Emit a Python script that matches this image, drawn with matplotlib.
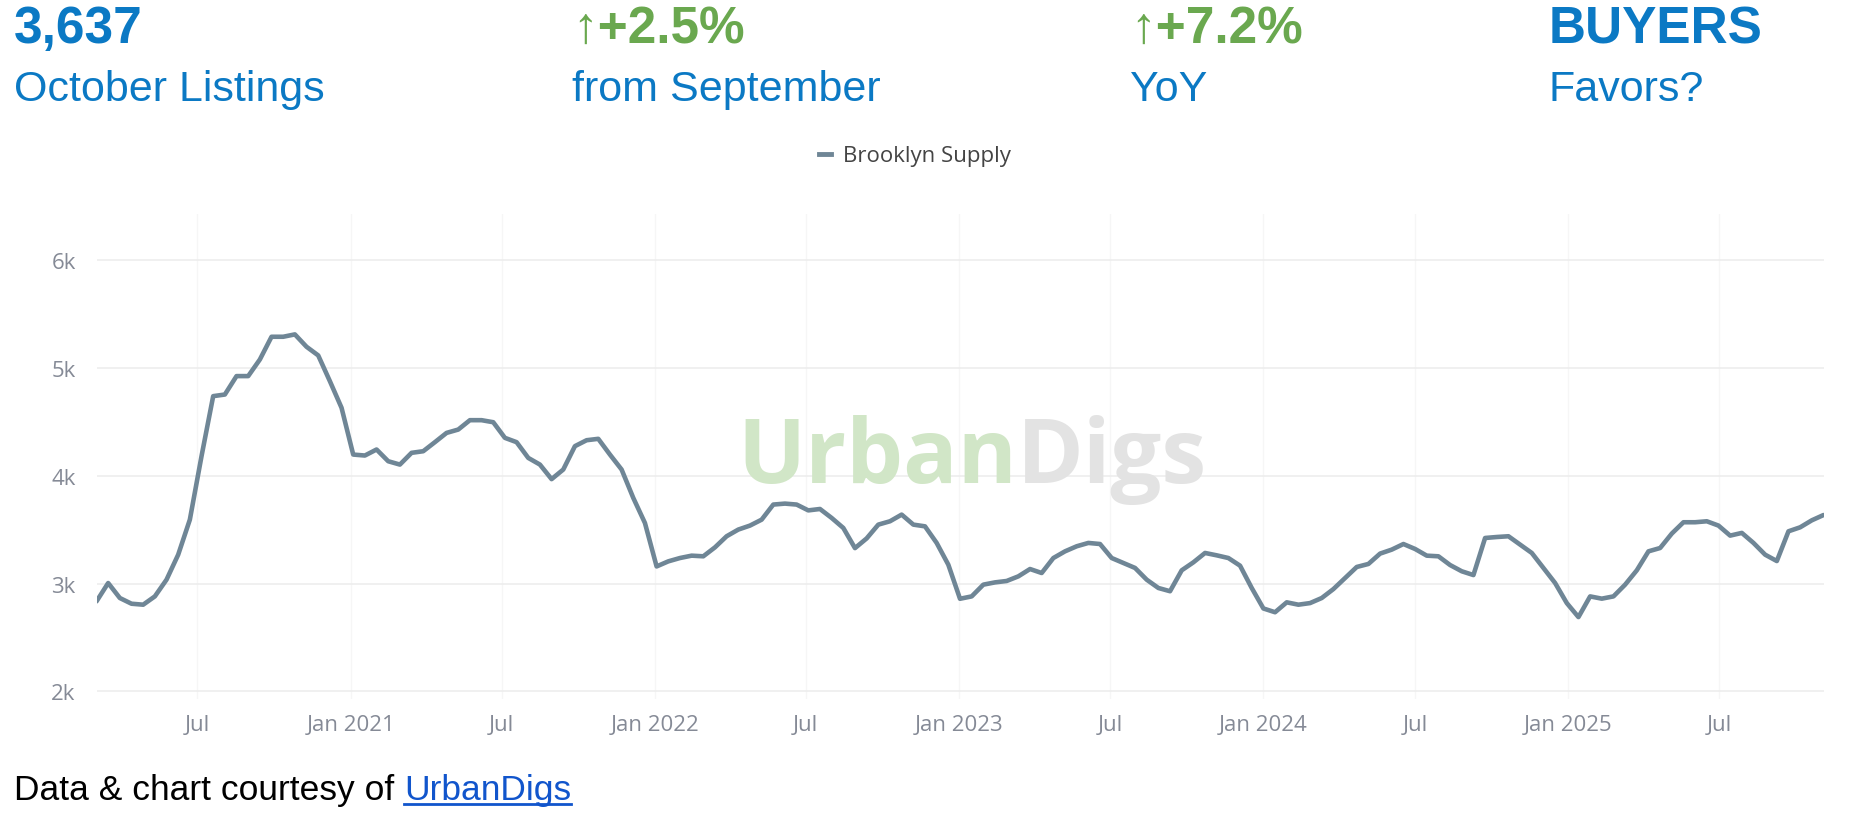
import matplotlib
matplotlib.use("Agg")
import matplotlib.pyplot as plt
from matplotlib.ticker import FuncFormatter
from matplotlib.lines import Line2D
import pandas as pd

# ---------------- data ----------------
start_date = "2020-03-02"
step = "14D"
supply = [
    2836, 3006, 2867, 2814, 2805, 2882, 3037, 3269, 3594, 4183,
    4740, 4755, 4926, 4926, 5080, 5291, 5291, 5313, 5198, 5118,
    4879, 4632, 4198, 4189, 4245, 4136, 4105, 4214, 4229, 4313,
    4399, 4430, 4517, 4517, 4498, 4353, 4313, 4167, 4105, 3970,
    4059, 4276, 4331, 4344, 4198, 4059, 3796, 3563, 3160, 3207,
    3238, 3260, 3254, 3337, 3440, 3502, 3539, 3594, 3734, 3743,
    3734, 3680, 3693, 3610, 3517, 3330, 3420, 3548, 3579, 3641,
    3548, 3532, 3378, 3176, 2860, 2882, 2991, 3012, 3025, 3068,
    3136, 3099, 3238, 3300, 3347, 3378, 3368, 3238, 3192, 3146,
    3037, 2960, 2930, 3124, 3198, 3285, 3263, 3238, 3167, 2960,
    2770, 2735, 2827, 2805, 2820, 2867, 2950, 3053, 3155, 3183,
    3279, 3316, 3368, 3322, 3260, 3254, 3173, 3115, 3080, 3424,
    3433, 3440, 3362, 3285, 3146, 3006, 2820, 2690, 2882, 2861,
    2882, 2991, 3124, 3300, 3331, 3465, 3570, 3570, 3579, 3539,
    3446, 3471, 3378, 3269, 3210, 3486, 3523, 3588, 3637,
]
dates = pd.date_range(start_date, periods=len(supply), freq=step)
series_name = "Brooklyn Supply"

y_ticks = [2000, 3000, 4000, 5000, 6000]
x_tick_dates = pd.to_datetime([
    "2020-07-01", "2021-01-01", "2021-07-01", "2022-01-01", "2022-07-01",
    "2023-01-01", "2023-07-01", "2024-01-01", "2024-07-01", "2025-01-01",
    "2025-07-01",
])
x_tick_labels = ["Jul", "Jan 2021", "Jul", "Jan 2022", "Jul", "Jan 2023",
                 "Jul", "Jan 2024", "Jul", "Jan 2025", "Jul"]

headline_values = ["3,637", "\u2191+2.5%", "\u2191+7.2%", "BUYERS"]
headline_labels = ["October Listings", "from September", "YoY", "Favors?"]
headline_value_colors = ["#0b79c4", "#6aa84f", "#6aa84f", "#0b79c4"]
headline_x = [14, 572, 1130, 1549]   # pixel positions

# ---------------- figure ----------------
W, H = 1850, 828
fig = plt.figure(figsize=(W / 100, H / 100), dpi=100)
fig.patch.set_facecolor("white")

ax_left, ax_right = 96.5, 1823.5
ax_top, ax_bottom = 215, 700
ax = fig.add_axes([ax_left / W, 1 - ax_bottom / H,
                   (ax_right - ax_left) / W, (ax_bottom - ax_top) / H])
ax.set_facecolor("white")

line_color = "#6f8696"
ax.plot(dates, supply, color=line_color, lw=3.3, solid_joinstyle="round",
        solid_capstyle="round", zorder=3, label=series_name)

ax.set_xlim(dates[0], dates[-1])
ax.set_ylim(1930, 6430)
ax.set_yticks(y_ticks)
ax.yaxis.set_major_formatter(FuncFormatter(lambda v, p: f"{int(v/1000)}k"))
ax.set_xticks(x_tick_dates)
ax.set_xticklabels(x_tick_labels)

for s in ax.spines.values():
    s.set_visible(False)
ax.tick_params(axis="both", length=0, labelsize=16, labelcolor="#858a96")
ax.tick_params(axis="y", pad=15)
ax.tick_params(axis="x", pad=11)
for lab in ax.get_xticklabels() + ax.get_yticklabels():
    lab.set_family(["Open Sans", "DejaVu Sans"])

ax.grid(axis="y", color="#ececec", lw=1.1, zorder=0)
ax.grid(axis="x", color="#f6f6f6", lw=1.0, zorder=0)
ax.set_axisbelow(True)

# watermark
wm1 = ax.text(0.533, 0.447, "Urban", transform=ax.transAxes, ha="right",
              va="baseline", fontsize=65, fontweight="bold",
              family=["Open Sans", "DejaVu Sans"], color="#d1e6c7", zorder=1)
ax.annotate("Digs", xy=(1, 0), xycoords=wm1, ha="left", va="bottom",
            fontsize=65, fontweight="bold", family=["Open Sans", "DejaVu Sans"],
            color="#e3e3e3", zorder=1)

# legend
fig.legend(handles=[Line2D([0], [0], color=line_color, lw=3.5)],
           labels=[series_name], loc="center",
           bbox_to_anchor=(915 / W, 1 - 157 / H), frameon=False,
           handlelength=0.55, handletextpad=0.55,
           prop={"family": ["Open Sans", "DejaVu Sans"], "size": 16},
           labelcolor="#444444")

# headline
hfam = ["Liberation Sans", "DejaVu Sans"]
for val, lab, col, xp in zip(headline_values, headline_labels,
                             headline_value_colors, headline_x):
    fig.text(xp / W, 1 - 43 / H, val, ha="left", va="baseline",
             fontsize=37, fontweight="bold", color=col, family=hfam)
    fig.text(xp / W, 1 - 101 / H, lab, ha="left", va="baseline",
             fontsize=31, color="#0b79c4", family=hfam)

# footer
ft = fig.text(14 / W, 1 - 800 / H, "Data & chart courtesy of ", ha="left",
              va="baseline", fontsize=25.5, color="black", family=hfam)
link = fig.text(0, 0, "UrbanDigs", fontsize=25.5, color="#1155cc", family=hfam,
                ha="left", va="baseline")
fig.canvas.draw()
r = fig.canvas.get_renderer()
bb = ft.get_window_extent(r)
link.set_position(((bb.x1) / W, 1 - 800 / H))
fig.canvas.draw()
lb = link.get_window_extent(r)
uy = (H - 800 - 5) / H
fig.add_artist(Line2D([lb.x0 / W, lb.x1 / W], [uy, uy], color="#1155cc",
                      lw=2.0, transform=fig.transFigure))

fig.savefig("out.png", dpi=100, facecolor="white")
